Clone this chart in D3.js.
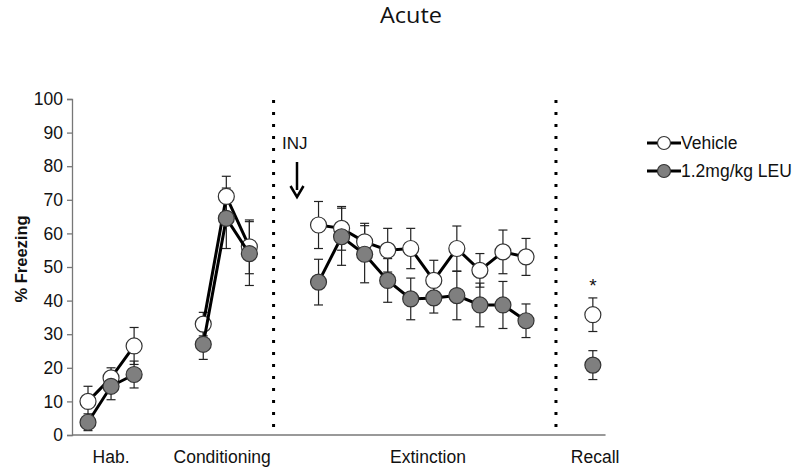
<!DOCTYPE html>
<html>
<head>
<meta charset="utf-8">
<script src="https://cdn.jsdelivr.net/npm/d3@7"></script>
<style>
body { margin: 0; background: #fff; }
text { font-family: "Liberation Sans", Arial, sans-serif; }
</style>
</head>
<body>
<script>
// trial positions (index along x)
var habX = [0, 1, 2];
var condX = [5, 6, 7];
var extX = [10, 11, 12, 13, 14, 15, 16, 17, 18, 19];
var recallX = [21.9];

var vehHab = [10, 17, 26.5];
var vehHabErr = [4.5, 3, 5.5];
var leuHab = [3.8, 14.5, 18];
var leuHabErr = [2.5, 4, 4];

var vehCond = [33, 71, 56];
var vehCondErr = [3.5, 6, 8];
var leuCond = [27, 64.5, 54];
var leuCondErr = [4.5, 9, 9.5];

var vehExt = [62.5, 61.5, 57.5, 55, 55.5, 46, 55.5, 49, 54.5, 53];
var vehExtErr = [7, 6.5, 5.5, 6.5, 6, 6, 6.7, 5, 6.5, 5.5];
var leuExt = [45.5, 59, 53.8, 46, 40.5, 40.8, 41.5, 38.7, 38.7, 34];
var leuExtErr = [6.8, 8.5, 8.5, 6.5, 6.2, 4.5, 7.2, 6.5, 7, 5];

var vehRecall = [35.8];
var vehRecallErr = [5];
var leuRecall = [20.8];
var leuRecallErr = [4.3];

var yTicks = [0, 10, 20, 30, 40, 50, 60, 70, 80, 90, 100];
var phaseLabels = ['Hab.', 'Conditioning', 'Extinction', 'Recall'];
var phaseLabelX = [1, 5.82, 14.75, 22];
var dividers = [8.05, 20.3];

var width = 800, height = 471;
var svg = d3.select('body').append('svg').attr('width', width).attr('height', height);

var x = d3.scaleLinear().domain([0, 19]).range([88, 526]);
var y = d3.scaleLinear().domain([0, 100]).range([435, 99]);

// title
svg.append('text').attr('x', 411).attr('y', 23).attr('text-anchor', 'middle')
  .attr('font-size', 21.5).attr('textLength', 62).attr('lengthAdjust', 'spacingAndGlyphs')
  .style('font-family', '"Open Sans", sans-serif').attr('fill', '#111')
  .text('Acute');

// y axis
var yAxis = d3.axisLeft(y).tickValues(yTicks).tickSize(5).tickPadding(4);
var ga = svg.append('g').attr('transform', 'translate(72,0)').call(yAxis);
ga.select('.domain').attr('stroke', '#777').attr('stroke-width', 1.3);
ga.selectAll('.tick line').attr('stroke', '#777').attr('stroke-width', 1.3);
ga.selectAll('.tick text').attr('font-size', 17.5).attr('fill', '#111')
  .style('font-family', '"Liberation Sans", Arial, sans-serif');

// x axis baseline
svg.append('line').attr('x1', 72).attr('x2', x(22.45)).attr('y1', y(0)).attr('y2', y(0))
  .attr('stroke', '#777').attr('stroke-width', 1.3);

svg.append('text').attr('transform', 'translate(27,259) rotate(-90)')
  .attr('text-anchor', 'middle').attr('font-size', 16.5).attr('font-weight', 'bold')
  .attr('fill', '#111').text('% Freezing');

svg.selectAll('text.phase').data(phaseLabels).enter().append('text')
  .attr('class', 'phase')
  .attr('x', function(d, i) { return x(phaseLabelX[i]); })
  .attr('y', 463).attr('text-anchor', 'middle').attr('font-size', 17.5).attr('fill', '#111')
  .text(function(d) { return d; });

// dotted dividers
svg.selectAll('line.div').data(dividers).enter().append('line')
  .attr('class', 'div')
  .attr('x1', function(d) { return x(d); }).attr('x2', function(d) { return x(d); })
  .attr('y1', 100).attr('y2', 435)
  .attr('stroke', '#000').attr('stroke-width', 3).attr('stroke-dasharray', '3,9');

// INJ arrow
svg.append('text').attr('x', 282).attr('y', 149).attr('font-size', 17).attr('fill', '#111').text('INJ');
svg.append('line').attr('x1', 297).attr('x2', 297).attr('y1', 162).attr('y2', 190)
  .attr('stroke', '#000').attr('stroke-width', 2.5);
svg.append('path').attr('d', 'M290.5,186 L297,197 L303.5,186')
  .attr('fill', 'none').attr('stroke', '#000').attr('stroke-width', 2.5);

function segs(xs, vs, es) {
  return xs.map(function(d, i) { return {x: d, v: vs[i], e: es[i]}; });
}

var vehicle = [segs(habX, vehHab, vehHabErr), segs(condX, vehCond, vehCondErr),
               segs(extX, vehExt, vehExtErr), segs(recallX, vehRecall, vehRecallErr)];
var leu = [segs(habX, leuHab, leuHabErr), segs(condX, leuCond, leuCondErr),
           segs(extX, leuExt, leuExtErr), segs(recallX, leuRecall, leuRecallErr)];

var line = d3.line().x(function(d) { return x(d.x); }).y(function(d) { return y(d.v); });

function drawErr(groups) {
  groups.forEach(function(g) {
    var eb = svg.append('g').selectAll('g').data(g).enter().append('g');
    eb.append('line').attr('x1', function(d) { return x(d.x); }).attr('x2', function(d) { return x(d.x); })
      .attr('y1', function(d) { return y(d.v - d.e); }).attr('y2', function(d) { return y(d.v + d.e); })
      .attr('stroke', '#222').attr('stroke-width', 1.2);
    [-1, 1].forEach(function(s) {
      eb.append('line').attr('x1', function(d) { return x(d.x) - 4.5; }).attr('x2', function(d) { return x(d.x) + 4.5; })
        .attr('y1', function(d) { return y(d.v + s * d.e); }).attr('y2', function(d) { return y(d.v + s * d.e); })
        .attr('stroke', '#222').attr('stroke-width', 1.2);
    });
  });
}

function drawSeries(groups, fill) {
  groups.forEach(function(g) {
    if (g.length > 1)
      svg.append('path').datum(g).attr('d', line).attr('fill', 'none')
        .attr('stroke', '#000').attr('stroke-width', 3);
  });
  groups.forEach(function(g) {
    svg.append('g').selectAll('circle').data(g).enter().append('circle')
      .attr('cx', function(d) { return x(d.x); }).attr('cy', function(d) { return y(d.v); })
      .attr('r', 8).attr('fill', fill).attr('stroke', '#333').attr('stroke-width', 1.2);
  });
}

drawErr(vehicle);
drawErr(leu);
drawSeries(vehicle, '#fff');
drawSeries(leu, '#7f7f7f');

// significance
svg.append('text').attr('x', x(recallX[0])).attr('y', 292).attr('text-anchor', 'middle')
  .attr('font-size', 19).attr('fill', '#111').text('*');

// legend
var legend = [{name: 'Vehicle', fill: '#fff'}, {name: '1.2mg/kg LEU', fill: '#7f7f7f'}];
var lg = svg.selectAll('g.leg').data(legend).enter().append('g').attr('class', 'leg')
  .attr('transform', function(d, i) { return 'translate(647,' + (143 + i * 28) + ')'; });
lg.append('line').attr('x1', 0).attr('x2', 34).attr('stroke', '#000').attr('stroke-width', 3);
lg.append('circle').attr('cx', 17).attr('r', 6.5).attr('fill', function(d) { return d.fill; })
  .attr('stroke', '#333').attr('stroke-width', 1.2);
lg.append('text').attr('x', 34).attr('y', 6).attr('font-size', 17.5).attr('fill', '#111')
  .text(function(d) { return d.name; });
</script>
</body>
</html>
